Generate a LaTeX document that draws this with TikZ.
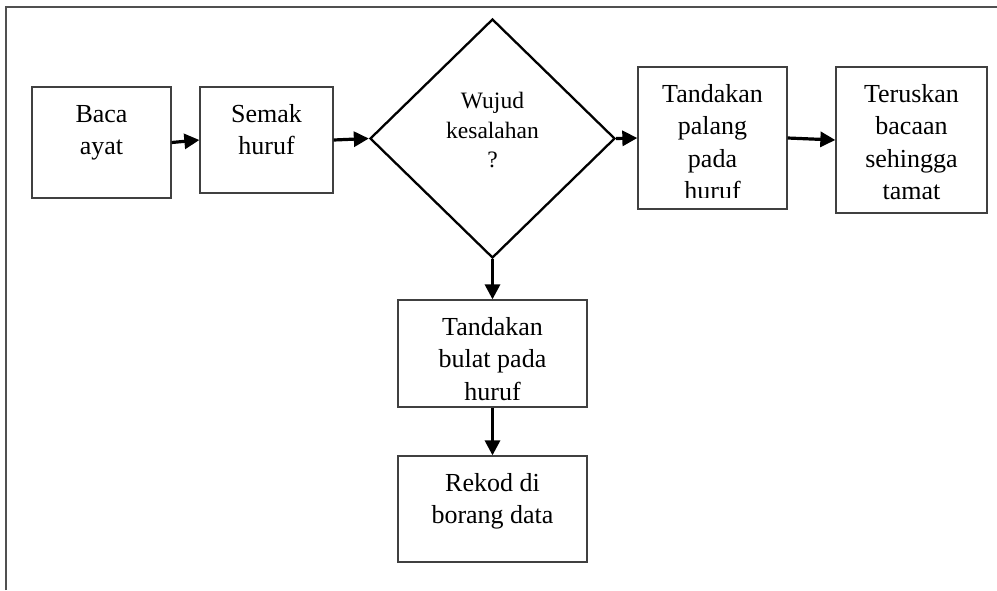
\documentclass[tikz,border=0pt]{standalone}
\usepackage{fontspec}
\setmainfont{Liberation Serif}
\usetikzlibrary{shapes.geometric,arrows.meta}
\definecolor{boxcol}{RGB}{64,64,64}
\definecolor{framecol}{RGB}{80,80,80}
\tikzset{every picture/.style={x=1pt,y=-1pt}}
\tikzset{stepbox/.style={rectangle,draw=boxcol,line width=1.3pt,inner sep=0pt}}
\tikzset{decision/.style={diamond,draw,line width=2.3pt,inner sep=0pt,minimum width=245pt,minimum height=239pt}}
\tikzset{flow/.style={line width=3.2pt,-{Triangle[length=15pt,width=15pt]}}}
\tikzset{boxtext/.style={align=center,anchor=north,inner sep=0pt,font=\fontsize{26}{32.5}\selectfont}}
\tikzset{asktext/.style={align=center,anchor=north,inner sep=0pt,font=\fontsize{23.5}{29.5}\selectfont}}

\begin{document}
\begin{tikzpicture}
\useasboundingbox (0,0) rectangle (997,590);
% outer frame
\draw [framecol,line width=2pt] (6,590) -- (6,7) -- (997,7);
% steps
\node [stepbox,minimum width=139pt,minimum height=111pt] (baca) at (101.5,142.5) {};
\node [stepbox,minimum width=133pt,minimum height=106pt] (semak) at (266.5,140) {};
\node [decision] (wujud) at (492.5,138.5) {};
\node [stepbox,minimum width=149pt,minimum height=142pt] (palang) at (712.5,138) {};
\node [stepbox,minimum width=151pt,minimum height=146pt] (terus) at (911.5,140) {};
\node [stepbox,minimum width=189pt,minimum height=107pt] (bulat) at (492.5,353.5) {};
\node [stepbox,minimum width=189pt,minimum height=106pt] (rekod) at (492.5,509) {};
% texts
\node [boxtext] (bacat) at ([yshift=-12.75pt]baca.north) {\strut Baca\\ayat};
\node [boxtext] (semakt) at ([yshift=-12.75pt]semak.north) {\strut Semak\\huruf};
\node [asktext] (wujudt) at ([yshift=50.65pt]wujud.center) {\strut Wujud\\kesalahan\\?};
\begin{scope}
\clip (palang.north west) rectangle ([yshift=12pt]palang.south east);
\node [boxtext] (palangt) at ([yshift=-12.75pt]palang.north) {\strut Tandakan\\palang\\pada\\huruf};
\end{scope}
\node [boxtext] (terust) at ([yshift=-12.75pt]terus.north) {\strut Teruskan\\bacaan\\sehingga\\tamat};
\node [boxtext] (bulatt) at ([yshift=-12.75pt]bulat.north) {\strut Tandakan\\bulat pada\\huruf};
\node [boxtext] (rekodt) at ([yshift=-12.75pt]rekod.north) {\strut Rekod di\\borang data};
% arrows
\draw [flow] (baca.east) -- (semak.west);
\draw [flow] (semak.east) -- (wujud.west);
\draw [flow] (wujud.east) -- (palang.west);
\draw [flow] (palang.east) -- (terus.west);
\draw [flow] (wujud.south) -- (bulat.north);
\draw [flow] (bulat.south) -- (rekod.north);
\end{tikzpicture}
\end{document}
